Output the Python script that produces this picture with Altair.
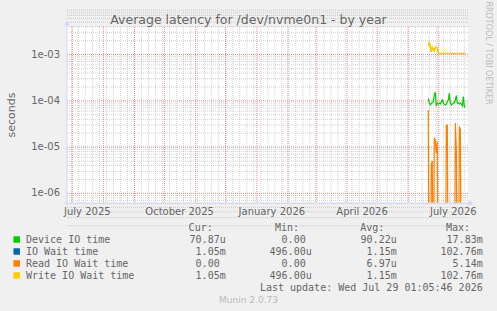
import altair as alt
import pandas as pd

# ---------------- data ----------------
start_day = "2026-06-21"
n_days = 38
device_io = [11.3e-5, 9.1e-5, 8.2e-5, 8.9e-5, 9.1e-5, 9.6e-5, 13.4e-5, 15.3e-5, 8.1e-5, 8.9e-5,
             8.5e-5, 8.9e-5, 8.5e-5, 9.5e-5, 10.4e-5, 9.1e-5, 8.5e-5, 8.1e-5, 8.5e-5, 9.5e-5,
             10.4e-5, 14.6e-5, 8.9e-5, 8.1e-5, 8.5e-5, 8.9e-5, 9.1e-5, 10.4e-5, 13.0e-5, 8.9e-5,
             9.1e-5, 8.5e-5, 8.9e-5, 8.5e-5, 7.8e-5, 12.3e-5, 7.5e-5, 7.09e-5]
io_wait = [1.52e-3, 1.80e-3, 1.50e-3, 1.15e-3, 1.43e-3, 1.30e-3, 1.20e-3, 1.43e-3, 1.42e-3, 1.43e-3,
           1.10e-3] + [1.05e-3] * 27
read_wait = [63e-6, 0, 0, 4.3e-6, 5.0e-6, 0, 16e-6, 14e-6, 7.4e-6, 13e-6,
             0, 0, 0, 0, 0, 0, 0, 0, 29e-6, 30e-6,
             0, 0, 0, 0, 0, 0, 0, 33e-6, 8.6e-6, 0,
             0, 28e-6, 24e-6, 0, 0, 0, 0, 0]
write_wait = [1.52e-3, 1.80e-3, 1.50e-3, 1.15e-3, 1.43e-3, 1.30e-3, 1.20e-3, 1.43e-3, 1.42e-3, 1.43e-3,
              1.10e-3] + [1.05e-3] * 27

series_names = ["Device IO time", "IO Wait time", "Read IO Wait time", "Write IO Wait time"]
series_colors = ["#00CC00", "#0066B3", "#FF8000", "#FFCC00"]
series_widths = [1.2, 0.8, 1.2, 1.6]
cur_vals = ["70.87u", "1.05m", "0.00", "1.05m"]
min_vals = ["0.00", "496.00u", "0.00", "496.00u"]
avg_vals = ["90.22u", "1.15m", "6.97u", "1.15m"]
max_vals = ["17.83m", "102.76m", "5.14m", "102.76m"]

title_text = "Average latency for /dev/nvme0n1 - by year"
y_title = "seconds"
last_update = "Last update: Wed Jul 29 01:05:46 2026"
footer = "Munin 2.0.73"
watermark = "RRDTOOL / TOBI OETIKER"

y_major = [1e-6, 1e-5, 1e-4, 1e-3]
y_labels = ["1e-06", "1e-05", "1e-04", "1e-03"]
y_minor = [k * 10.0 ** e for e in range(-7, -2) for k in range(2, 10)]
x_label_dates = ["2025-07-16", "2025-10-16", "2026-01-16", "2026-04-16", "2026-07-16"]
x_labels = ["July 2025", "October 2025", "January 2026", "April 2026", "July 2026"]
x_major_dates = ["2025-07-01", "2025-08-01", "2025-09-01", "2025-10-01", "2025-11-01", "2025-12-01",
                 "2026-01-01", "2026-02-01", "2026-03-01", "2026-04-01", "2026-05-01", "2026-06-01",
                 "2026-07-01"]
x_minor_dates = [d.strftime("%Y-%m-%d") for d in pd.date_range("2025-06-30", "2026-07-30", freq="7D")]
x_domain = ["2025-06-25T17:00:00Z", "2026-07-30T15:00:00Z"]
y_domain = [6.2e-7, 3.93e-3]

# ---------------- layout ----------------
W, H = 497, 311
L, T = 67, 27
PW, PH = 401, 176
FONT = "DejaVu Sans"
MONO = "DejaVu Sans Mono"
FC = "#666666"


def ms(s):
    ts = pd.Timestamp(s)
    if ts.tzinfo is None:
        ts = ts.tz_localize("UTC")
    return int(ts.value // 10**6)


xscale = alt.Scale(type="utc", domain=[ms(d) for d in x_domain], nice=False)
yscale = alt.Scale(type="log", domain=y_domain, nice=False)

dates = [d.strftime("%Y-%m-%d") for d in pd.date_range(start_day, periods=n_days, freq="D")]
rows = []
for name, vals in zip(series_names, [device_io, io_wait, read_wait, write_wait]):
    for d, v in zip(dates, vals):
        rows.append({"date": d, "v": v, "series": name})
df = pd.DataFrame(rows)

layers = []
GRID = dict(strokeDash=[1, 1], strokeWidth=1)

# grids
layers.append(alt.Chart(pd.DataFrame({"v": y_minor})).mark_rule(
    color="#8F8F8F", opacity=0.4, **GRID).encode(
    y=alt.Y("v:Q", scale=yscale, axis=None)))
layers.append(alt.Chart(pd.DataFrame({"d": x_minor_dates})).mark_rule(
    color="#8F8F8F", opacity=0.4, **GRID).encode(
    x=alt.X("d:T", scale=xscale, axis=None)))
layers.append(alt.Chart(pd.DataFrame({"v": y_major})).mark_rule(
    color="#E06060", opacity=0.7, **GRID).encode(
    y=alt.Y("v:Q", scale=yscale, axis=None)))
layers.append(alt.Chart(pd.DataFrame({"d": x_major_dates})).mark_rule(
    color="#E06060", opacity=0.7, **GRID).encode(
    x=alt.X("d:T", scale=xscale, axis=None)))

# series lines
for name, col, sw in zip(series_names, series_colors, series_widths):
    layers.append(alt.Chart(df).transform_filter(alt.datum.series == name).transform_calculate(
        vv="max(datum.v, 1e-9)").mark_line(color=col, strokeWidth=sw, clip=True).encode(
        x=alt.X("date:T", scale=xscale, axis=None),
        y=alt.Y("vv:Q", scale=yscale, axis=None)))

# axis labels as text marks through the scales
layers.append(alt.Chart(pd.DataFrame({"d": x_label_dates, "t": x_labels})).mark_text(
    font=FONT, fontSize=10, color=FC, align="center", baseline="middle").encode(
    x=alt.X("d:T", scale=xscale, axis=None), y=alt.value(PH + 9), text="t:N"))
layers.append(alt.Chart(pd.DataFrame({"v": y_major, "t": y_labels})).mark_text(
    font=FONT, fontSize=10, color=FC, align="right", baseline="middle").encode(
    y=alt.Y("v:Q", scale=yscale, axis=None), x=alt.value(-7), text="t:N"))

one = alt.Data(values=[{}])


def txt(s, X, Y, size=10, align="left", color=FC, font=FONT, angle=0):
    return alt.Chart(one).mark_text(text=s, align=align, baseline="middle", fontSize=size,
                                    font=font, color=color, angle=angle).encode(
        x=alt.value(X - L), y=alt.value(Y - T))


# axis lines and arrows
AX = "#CFD6F8"
layers.append(alt.Chart(one).mark_rule(color=AX, strokeWidth=1).encode(
    x=alt.value(0), y=alt.value(22 - T), y2=alt.value(206 - T)))
layers.append(alt.Chart(one).mark_rule(color=AX, strokeWidth=1).encode(
    x=alt.value(63 - L), x2=alt.value(471 - L), y=alt.value(PH)))
layers.append(alt.Chart(one).mark_point(shape="triangle-up", filled=True, color=AX, size=30, opacity=1).encode(
    x=alt.value(0), y=alt.value(23 - T)))
layers.append(alt.Chart(one).mark_point(shape="triangle-right", filled=True, color=AX, size=30, opacity=1).encode(
    x=alt.value(471 - L), y=alt.value(PH)))

# titles
layers.append(txt(title_text, 248.5, 19.5, size=12.5, align="center"))
layers.append(txt(y_title, 12, 115, size=11, align="center", angle=270))
layers.append(txt(watermark, 488, 53, size=8, align="center", color="#BBBBBB", angle=90))
layers.append(txt(footer, 248.5, 300, size=9, align="center", color="#BBBBBB"))

# legend table
CH = 6.02
headers = ["Cur:", "Min:", "Avg:", "Max:"]
header_right = [212.7, 299, 384.3, 470]
col_right = [225.7, 311.7, 396.7, 482.7]
for h, xr in zip(headers, header_right):
    layers.append(txt(h, xr, 228, font=MONO, align="right"))
row_y = [239.5, 251.5, 263.5, 275.5]
for i, (name, col) in enumerate(zip(series_names, series_colors)):
    yy = row_y[i]
    layers.append(alt.Chart(one).mark_square(color=col, size=42, opacity=1).encode(
        x=alt.value(16.7 - L), y=alt.value(yy - T)))
    layers.append(txt(name, 26, yy, font=MONO))
    for vals, xr in zip([cur_vals, min_vals, avg_vals, max_vals], col_right):
        s = vals[i]
        off = 0 if s[-1].isalpha() else CH
        layers.append(txt(s, xr - off, yy, font=MONO, align="right"))
layers.append(txt(last_update, 482.7, 287.5, font=MONO, align="right"))

chart = alt.layer(*layers).properties(
    width=PW, height=PH, background="#F0F0F0",
    padding={"left": L, "top": T, "right": W - L - PW, "bottom": H - T - PH},
    autosize=alt.AutoSizeParams(type="none"),
).configure_view(fill="#FFFFFF", stroke=None)

chart.save("out.html", embed_options={"renderer": "svg", "actions": False})
